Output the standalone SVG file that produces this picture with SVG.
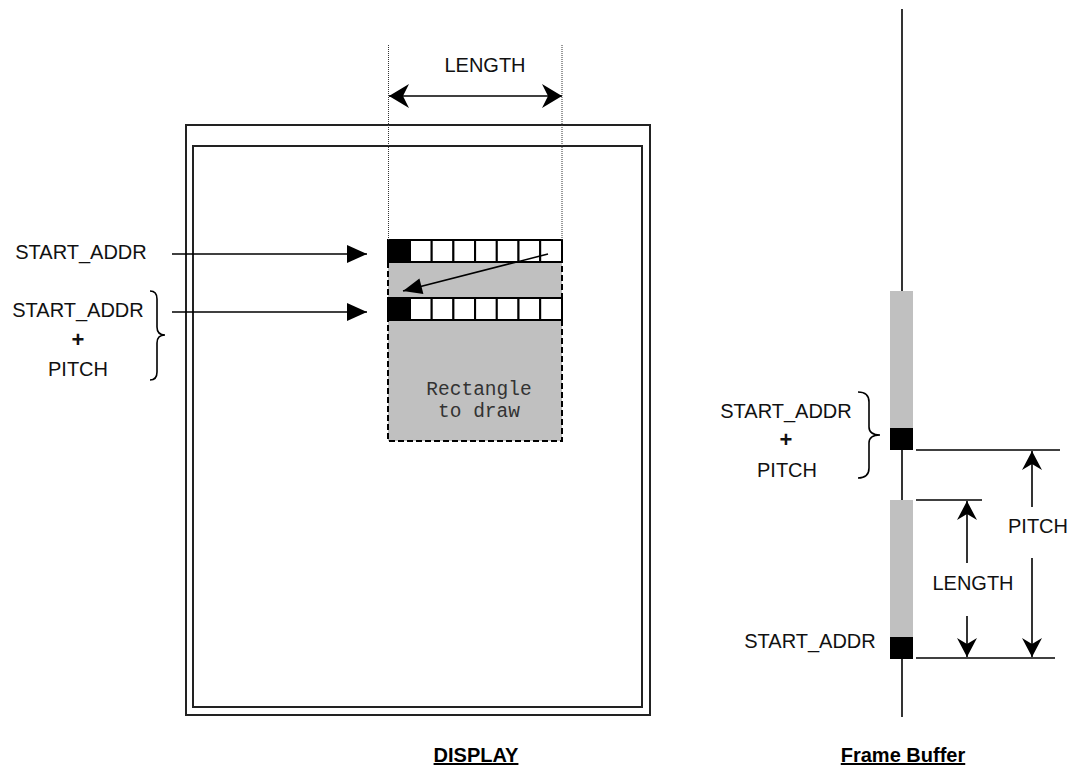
<svg xmlns="http://www.w3.org/2000/svg" width="1073" height="768" viewBox="0 0 1073 768">
<style>
  .lbl { font-family: "Liberation Sans", Arial, sans-serif; font-size: 20px; fill: #111; text-anchor: middle; }
  .plus { font-family: "Liberation Sans", Arial, sans-serif; font-size: 22px; font-weight: bold; fill: #111; text-anchor: middle; }
  .title { font-family: "Liberation Sans", Arial, sans-serif; font-size: 20px; font-weight: bold; fill: #000; text-anchor: middle; text-decoration: underline; }
  .mono { font-family: "Liberation Mono", "Courier New", monospace; font-size: 19.5px; fill: #333; text-anchor: middle; }
  .frame { fill: none; stroke: #222; stroke-width: 2; }
  .ln { fill: none; stroke: #000; stroke-width: 1.6; }
  .dot { fill: none; stroke: #333; stroke-width: 1; stroke-dasharray: 1 1; }
  .cell { fill: #fff; stroke: #000; stroke-width: 2; }
  .cellb { fill: #000; stroke: #000; stroke-width: 2; }
  .brace { fill: none; stroke: #000; stroke-width: 1.6; }
</style>
<defs>
  <marker id="stealth" markerUnits="userSpaceOnUse" markerWidth="1" markerHeight="1" refX="0" refY="0" orient="auto-start-reverse" overflow="visible">
    <path d="M0,0 L-20,-12 L-14,0 L-20,12 Z" fill="#000"/>
  </marker>
  <marker id="stealthv" markerUnits="userSpaceOnUse" markerWidth="1" markerHeight="1" refX="0" refY="0" orient="auto" overflow="visible">
    <path d="M0,0 L-19,-10 L-13,0 L-19,10 Z" fill="#000"/>
  </marker>
  <marker id="tri" markerUnits="userSpaceOnUse" markerWidth="1" markerHeight="1" refX="0" refY="0" orient="auto" overflow="visible">
    <path d="M0,0 L-20,-9 L-20,9 Z" fill="#000"/>
  </marker>
  <marker id="tris" markerUnits="userSpaceOnUse" markerWidth="1" markerHeight="1" refX="0" refY="0" orient="auto" overflow="visible">
    <path d="M0,0 L-19,-8 L-19,8 Z" fill="#000"/>
  </marker>
</defs>

<g id="display">
  <rect class="frame" x="186" y="125" width="464" height="590"/>
  <rect class="frame" x="193" y="146" width="449" height="561"/>
</g>

<g id="rectangle-to-draw">
  <rect x="388" y="262" width="174" height="179" fill="#c0c0c0"/>
  <path d="M388,262 V441 H562 V262" fill="none" stroke="#000" stroke-width="2" stroke-dasharray="6 3"/>
  <text class="mono" x="479" y="395">Rectangle</text>
  <text class="mono" x="479" y="417">to draw</text>
</g>

<g id="row1">
  <rect class="cellb" x="388" y="240" width="22" height="22"/>
  <rect class="cell" x="410" y="240" width="21.7" height="22"/>
  <rect class="cell" x="431.7" y="240" width="21.7" height="22"/>
  <rect class="cell" x="453.4" y="240" width="21.7" height="22"/>
  <rect class="cell" x="475.1" y="240" width="21.7" height="22"/>
  <rect class="cell" x="496.8" y="240" width="21.7" height="22"/>
  <rect class="cell" x="518.5" y="240" width="21.7" height="22"/>
  <rect class="cell" x="540.2" y="240" width="21.8" height="22"/>
</g>
<g id="row2">
  <rect class="cellb" x="388" y="298" width="22" height="22"/>
  <rect class="cell" x="410" y="298" width="21.7" height="22"/>
  <rect class="cell" x="431.7" y="298" width="21.7" height="22"/>
  <rect class="cell" x="453.4" y="298" width="21.7" height="22"/>
  <rect class="cell" x="475.1" y="298" width="21.7" height="22"/>
  <rect class="cell" x="496.8" y="298" width="21.7" height="22"/>
  <rect class="cell" x="518.5" y="298" width="21.7" height="22"/>
  <rect class="cell" x="540.2" y="298" width="21.8" height="22"/>
</g>

<g id="labels-display">
  <text class="lbl" x="485" y="72">LENGTH</text>
  <text class="lbl" x="81" y="259">START_ADDR</text>
  <text class="lbl" x="78" y="317">START_ADDR</text>
  <text class="plus" x="78" y="347">+</text>
  <text class="lbl" x="78" y="376">PITCH</text>
  <path class="brace" d="M150,291 Q157,291 157,299 L157,327 Q157,335 165,335 Q157,335 157,343 L157,372 Q157,380 150,380"/>
  <text class="title" x="476" y="762">DISPLAY</text>
</g>

<g id="frame-buffer">
  <line class="ln" x1="902" y1="9" x2="902" y2="291"/>
  <line class="ln" x1="902" y1="450" x2="902" y2="500"/>
  <line class="ln" x1="902" y1="659" x2="902" y2="717"/>
  <rect x="890" y="291" width="23" height="137" fill="#c0c0c0"/>
  <rect x="890" y="428" width="23" height="22" fill="#000"/>
  <rect x="890" y="500" width="23" height="137" fill="#c0c0c0"/>
  <rect x="890" y="637" width="23" height="22" fill="#000"/>
  <text class="lbl" x="786" y="418">START_ADDR</text>
  <text class="plus" x="786" y="447">+</text>
  <text class="lbl" x="787" y="477">PITCH</text>
  <path class="brace" d="M858,392 Q869,392 869,402 L869,427 Q869,435 880,435 Q869,435 869,443 L869,468 Q869,478 858,478"/>
  <text class="lbl" x="810" y="648">START_ADDR</text>
  <text class="lbl" x="973" y="590">LENGTH</text>
  <text class="lbl" x="1038" y="533">PITCH</text>
  <text class="title" x="903" y="762">Frame Buffer</text>
</g>

<g id="connectors">
  <line class="dot" x1="388.5" y1="45" x2="388.5" y2="240"/>
  <line class="dot" x1="562" y1="45" x2="562" y2="240"/>
  <line class="ln" x1="389" y1="96" x2="562" y2="96" marker-start="url(#stealth)" marker-end="url(#stealth)"/>
  <line class="ln" x1="172" y1="254" x2="367" y2="254" marker-end="url(#tri)"/>
  <line class="ln" x1="172" y1="312" x2="367" y2="312" marker-end="url(#tri)"/>
  <line class="ln" x1="548" y1="254" x2="403" y2="291" marker-end="url(#tris)"/>
  <line class="ln" x1="916" y1="450" x2="1060" y2="450"/>
  <line class="ln" x1="916" y1="500" x2="982" y2="500"/>
  <line class="ln" x1="916" y1="658" x2="1055" y2="658"/>
  <line class="ln" x1="967" y1="563" x2="967" y2="501" marker-end="url(#stealthv)"/>
  <line class="ln" x1="967" y1="616" x2="967" y2="657" marker-end="url(#stealthv)"/>
  <line class="ln" x1="1032" y1="507" x2="1032" y2="451" marker-end="url(#stealthv)"/>
  <line class="ln" x1="1032" y1="558" x2="1032" y2="657" marker-end="url(#stealthv)"/>
</g>
</svg>
